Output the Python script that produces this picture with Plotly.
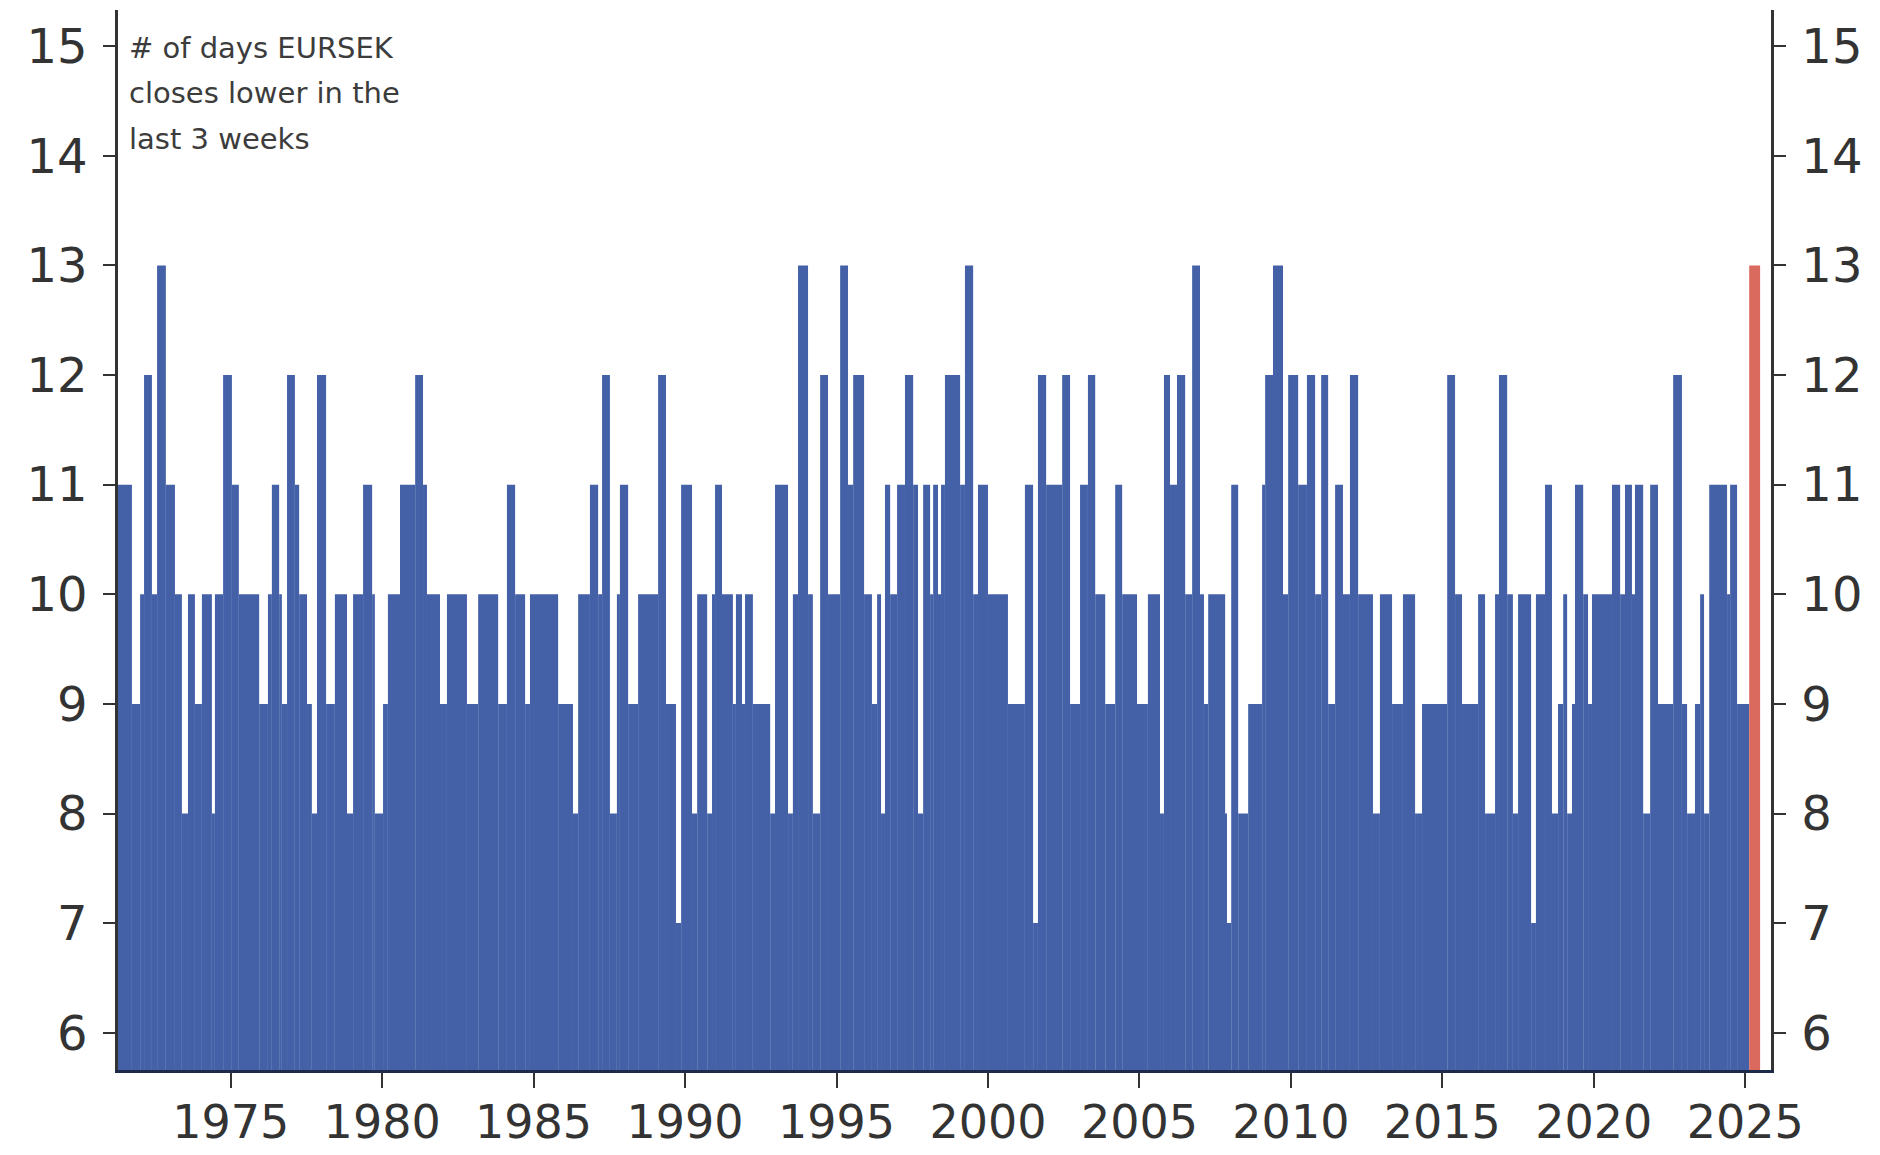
import plotly.graph_objects as go

# Step series: start (decimal year) of each run and the count of lower closes
seg_start = [
    1971.28, 1971.74, 1972.01, 1972.14, 1972.40, 1972.57, 1972.86, 1973.16, 1973.39, 1973.59,
    1973.82, 1974.05, 1974.38, 1974.48, 1974.75, 1975.04, 1975.27, 1975.94, 1976.23, 1976.36,
    1976.60, 1976.69, 1976.86, 1977.12, 1977.26, 1977.52, 1977.68, 1977.85, 1978.15, 1978.44,
    1978.84, 1979.04, 1979.37, 1979.67, 1979.76, 1980.03, 1980.19, 1980.59, 1981.09, 1981.35,
    1981.48, 1981.91, 1982.14, 1982.80, 1983.17, 1983.83, 1984.12, 1984.39, 1984.72, 1984.88,
    1985.81, 1986.30, 1986.47, 1986.86, 1987.13, 1987.26, 1987.52, 1987.75, 1987.85, 1988.12,
    1988.45, 1989.11, 1989.37, 1989.70, 1989.87, 1990.23, 1990.40, 1990.73, 1990.89, 1990.99,
    1991.22, 1991.58, 1991.68, 1991.88, 1991.98, 1992.24, 1992.81, 1992.97, 1993.40, 1993.56,
    1993.73, 1994.06, 1994.22, 1994.46, 1994.72, 1995.12, 1995.38, 1995.55, 1995.91, 1996.17,
    1996.34, 1996.47, 1996.60, 1996.77, 1997.00, 1997.26, 1997.53, 1997.69, 1997.86, 1998.09,
    1998.19, 1998.35, 1998.45, 1998.58, 1999.08, 1999.24, 1999.51, 1999.67, 2000.00, 2000.66,
    2001.22, 2001.49, 2001.65, 2001.92, 2002.45, 2002.71, 2003.04, 2003.30, 2003.54, 2003.87,
    2004.20, 2004.43, 2004.92, 2005.28, 2005.68, 2005.81, 2006.01, 2006.24, 2006.51, 2006.74,
    2007.00, 2007.13, 2007.27, 2007.83, 2007.89, 2008.03, 2008.26, 2008.59, 2009.05, 2009.15,
    2009.41, 2009.74, 2009.91, 2010.24, 2010.53, 2010.80, 2011.00, 2011.23, 2011.46, 2011.72,
    2011.95, 2012.22, 2012.71, 2012.94, 2013.34, 2013.70, 2014.10, 2014.33, 2015.16, 2015.42,
    2015.65, 2016.18, 2016.41, 2016.74, 2016.87, 2017.14, 2017.33, 2017.50, 2017.93, 2018.09,
    2018.39, 2018.62, 2018.82, 2018.99, 2019.12, 2019.28, 2019.38, 2019.65, 2019.81, 2019.94,
    2020.60, 2020.87, 2021.03, 2021.26, 2021.36, 2021.63, 2021.86, 2022.12, 2022.62, 2022.91,
    2023.08, 2023.34, 2023.51, 2023.64, 2023.81, 2024.40, 2024.50, 2024.73,
]
seg_value = [
    11, 9, 10, 12, 10, 13, 11, 10, 8, 10,
    9, 10, 8, 10, 12, 11, 10, 9, 10, 11,
    10, 9, 12, 11, 10, 9, 8, 12, 9, 10,
    8, 10, 11, 10, 8, 9, 10, 11, 12, 11,
    10, 9, 10, 9, 10, 9, 11, 10, 9, 10,
    9, 8, 10, 11, 10, 12, 8, 10, 11, 9,
    10, 12, 9, 7, 11, 8, 10, 8, 10, 11,
    10, 9, 10, 9, 10, 9, 8, 11, 8, 10,
    13, 10, 8, 12, 10, 13, 11, 12, 10, 9,
    10, 8, 11, 10, 11, 12, 11, 8, 11, 10,
    11, 10, 11, 12, 11, 13, 10, 11, 10, 9,
    11, 7, 12, 11, 12, 9, 11, 12, 10, 9,
    11, 10, 9, 10, 8, 12, 11, 12, 10, 13,
    10, 9, 10, 8, 7, 11, 8, 9, 11, 12,
    13, 10, 12, 11, 12, 10, 12, 9, 11, 10,
    12, 10, 8, 10, 9, 10, 8, 9, 12, 10,
    9, 10, 8, 10, 12, 10, 8, 10, 7, 10,
    11, 8, 9, 10, 8, 9, 11, 10, 9, 10,
    11, 10, 11, 10, 11, 8, 11, 9, 12, 9,
    8, 9, 10, 8, 11, 10, 11, 9,
]
latest_start = 2025.13
latest_value = 13
latest_end = 2025.49

x_ticks = [1975, 1980, 1985, 1990, 1995, 2000, 2005, 2010, 2015, 2020, 2025]
y_ticks = [6, 7, 8, 9, 10, 11, 12, 13, 14, 15]
note_lines = ["# of days EURSEK", "closes lower in the", "last 3 weeks"]

BLUE = "#4461A8"
RED = "#DB6A5E"
AX = "#333333"
FONT = "DejaVu Sans"

ends = seg_start[1:] + [latest_start]
mids = [(a + b) / 2 for a, b in zip(seg_start, ends)]
widths = [b - a for a, b in zip(seg_start, ends)]

fig = go.Figure()
fig.add_trace(go.Bar(x=mids, y=seg_value, width=widths, marker=dict(color=BLUE, line=dict(width=0)),
                     showlegend=False, yaxis="y"))
fig.add_trace(go.Bar(x=[(latest_start + latest_end) / 2], y=[latest_value], width=[latest_end - latest_start],
                     marker=dict(color=RED, line=dict(width=0)), showlegend=False, yaxis="y2"))

yr = [5.66, 15.33]
common_y = dict(range=yr, tickvals=y_ticks, ticks="outside", ticklen=12, tickwidth=2, tickcolor=AX,
                showline=True, linecolor=AX, linewidth=2.5, showgrid=False, zeroline=False,
                tickfont=dict(family=FONT, size=48, color=AX), ticklabelstandoff=6,
                fixedrange=True, automargin=False)

fig.update_layout(
    width=1880, height=1155,
    margin=dict(l=118, r=109, t=10, b=85),
    paper_bgcolor="white", plot_bgcolor="white",
    barmode="overlay",
    font=dict(family=FONT, color=AX),
    xaxis=dict(range=[1971.28, 2025.85], tickvals=x_ticks, ticks="outside", ticklen=15, tickwidth=2,
               tickcolor=AX, showline=True, linecolor="#1E2A4A", linewidth=3, showgrid=False,
               zeroline=False, tickfont=dict(family=FONT, size=46, color=AX), ticklabelstandoff=-5,
               automargin=False, fixedrange=True),
    yaxis=dict(side="left", **common_y),
    yaxis2=dict(side="right", overlaying="y", anchor="x", **common_y),
)

for line, ypix in zip(note_lines, [48, 93.5, 139]):
    fig.add_annotation(text=line, xref="paper", yref="paper", x=0.0055, y=(1070 - ypix) / 1060,
                       xanchor="left", yanchor="middle", showarrow=False,
                       font=dict(family=FONT, size=29, color="#3C3C3C"))

fig.write_html("out.html", config={"displayModeBar": False},
               post_script="document.body.style.margin='0';")
